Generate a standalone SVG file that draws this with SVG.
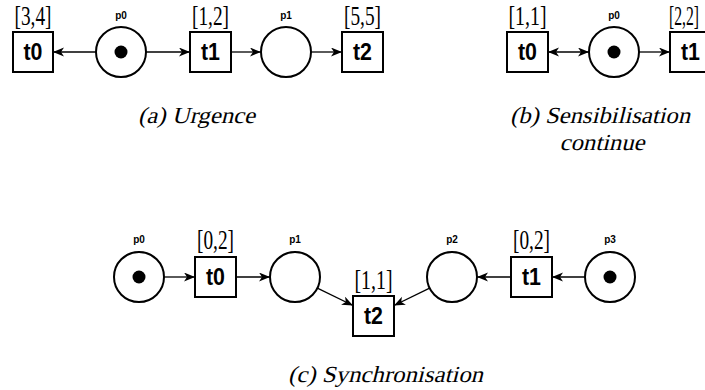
<svg xmlns="http://www.w3.org/2000/svg" width="705" height="390" viewBox="0 0 705 390">
<style>
.pl{fill:#fff;stroke:#000;stroke-width:2}
.tr{fill:#fff;stroke:#000;stroke-width:2}
.tok{fill:#000}
.tn{font-family:"Liberation Sans",Arial,sans-serif;font-weight:bold;font-size:23px;text-anchor:middle}
.pn{font-family:"Liberation Sans",Arial,sans-serif;font-weight:bold;font-size:10px;text-anchor:middle}
.iv{font-family:"Liberation Serif","Times New Roman",serif;font-size:27px;text-anchor:middle}
.cap{font-family:"Liberation Serif","Times New Roman",serif;font-size:23px;text-anchor:middle}
.arc{stroke:#000;stroke-width:1.3;fill:none;marker-end:url(#ah)}
.arc2{stroke:#000;stroke-width:1.3;fill:none;marker-end:url(#ah);marker-start:url(#ah)}
</style>
<defs>
<marker id="ah" markerUnits="userSpaceOnUse" markerWidth="12" markerHeight="10" refX="11" refY="4.5" orient="auto-start-reverse">
<path d="M0,0 L11,4.5 L0,9 L3,4.5 z" fill="#000"/>
</marker>
</defs>
<rect width="705" height="390" fill="#fff"/>
<g id="connectors">
<line class="arc" x1="96" y1="52" x2="53" y2="52"/>
<line class="arc" x1="146" y1="52" x2="190" y2="52"/>
<line class="arc" x1="231" y1="52" x2="261" y2="52"/>
<line class="arc" x1="311" y1="52" x2="342" y2="52"/>
<line class="arc2" x1="548" y1="52" x2="589" y2="52"/>
<line class="arc" x1="639" y1="52" x2="670" y2="52"/>
<line class="arc" x1="164" y1="277" x2="195" y2="277"/>
<line class="arc" x1="236" y1="277" x2="270" y2="277"/>
<line class="arc" x1="317.4" y1="288.2" x2="353" y2="305.5"/>
<line class="arc" x1="429.6" y1="288.2" x2="394" y2="305.5"/>
<line class="arc" x1="511" y1="277" x2="477" y2="277"/>
<line class="arc" x1="585" y1="277" x2="552" y2="277"/>
</g>
<g id="a-t0"><rect class="tr" x="13" y="32" width="40" height="40"/><text class="tn" x="33" y="60" textLength="19" lengthAdjust="spacingAndGlyphs">t0</text><text class="iv" x="33" y="25" textLength="37" lengthAdjust="spacingAndGlyphs">[3,4]</text></g>
<g id="a-p0"><circle class="pl" cx="121" cy="52" r="25"/><circle class="tok" cx="121" cy="52" r="6.5"/><text class="pn" x="121" y="19">p0</text></g>
<g id="a-t1"><rect class="tr" x="190" y="32" width="41" height="40"/><text class="tn" x="210.5" y="60" textLength="19" lengthAdjust="spacingAndGlyphs">t1</text><text class="iv" x="210.5" y="25" textLength="37" lengthAdjust="spacingAndGlyphs">[1,2]</text></g>
<g id="a-p1"><circle class="pl" cx="286" cy="52" r="25"/><text class="pn" x="286" y="19">p1</text></g>
<g id="a-t2"><rect class="tr" x="342" y="32" width="41" height="40"/><text class="tn" x="362.5" y="60" textLength="19" lengthAdjust="spacingAndGlyphs">t2</text><text class="iv" x="362.5" y="25" textLength="37" lengthAdjust="spacingAndGlyphs">[5,5]</text></g>
<text class="cap" transform="translate(196.5,123) skewX(-14)" textLength="117" lengthAdjust="spacingAndGlyphs">(a) Urgence</text>
<g id="b-t0"><rect class="tr" x="507" y="32" width="41" height="40"/><text class="tn" x="527.5" y="60" textLength="19" lengthAdjust="spacingAndGlyphs">t0</text><text class="iv" x="527.5" y="25" textLength="38" lengthAdjust="spacingAndGlyphs">[1,1]</text></g>
<g id="b-p0"><circle class="pl" cx="614" cy="52" r="25"/><circle class="tok" cx="614" cy="52" r="6.5"/><text class="pn" x="614" y="19">p0</text></g>
<g id="b-t1"><rect class="tr" x="670" y="32" width="41" height="40"/><text class="tn" x="690.5" y="60" textLength="19" lengthAdjust="spacingAndGlyphs">t1</text><text class="iv" x="684" y="25" textLength="30" lengthAdjust="spacingAndGlyphs">[2,2]</text></g>
<text class="cap" transform="translate(600,123) skewX(-14)" textLength="180" lengthAdjust="spacingAndGlyphs">(b) Sensibilisation</text>
<text class="cap" transform="translate(602,150) skewX(-14)" textLength="85" lengthAdjust="spacingAndGlyphs">continue</text>
<g id="c-p0"><circle class="pl" cx="139" cy="277" r="25"/><circle class="tok" cx="139" cy="277" r="6.5"/><text class="pn" x="139" y="243">p0</text></g>
<g id="c-t0"><rect class="tr" x="195" y="257" width="41" height="40"/><text class="tn" x="215.5" y="285" textLength="19" lengthAdjust="spacingAndGlyphs">t0</text><text class="iv" x="215.5" y="249" textLength="37" lengthAdjust="spacingAndGlyphs">[0,2]</text></g>
<g id="c-p1"><circle class="pl" cx="295" cy="277" r="25"/><text class="pn" x="295" y="243">p1</text></g>
<g id="c-t2"><rect class="tr" x="353" y="296" width="41" height="40"/><text class="tn" x="373.5" y="324" textLength="19" lengthAdjust="spacingAndGlyphs">t2</text><text class="iv" x="373.5" y="289" textLength="38" lengthAdjust="spacingAndGlyphs">[1,1]</text></g>
<g id="c-p2"><circle class="pl" cx="452" cy="277" r="25"/><text class="pn" x="452" y="243">p2</text></g>
<g id="c-t1"><rect class="tr" x="511" y="257" width="41" height="40"/><text class="tn" x="531.5" y="285" textLength="19" lengthAdjust="spacingAndGlyphs">t1</text><text class="iv" x="531.5" y="249" textLength="37" lengthAdjust="spacingAndGlyphs">[0,2]</text></g>
<g id="c-p3"><circle class="pl" cx="610" cy="277" r="25"/><circle class="tok" cx="610" cy="277" r="6.5"/><text class="pn" x="610" y="243">p3</text></g>
<text class="cap" transform="translate(385.5,382) skewX(-14)" textLength="195" lengthAdjust="spacingAndGlyphs">(c) Synchronisation</text>
</svg>
